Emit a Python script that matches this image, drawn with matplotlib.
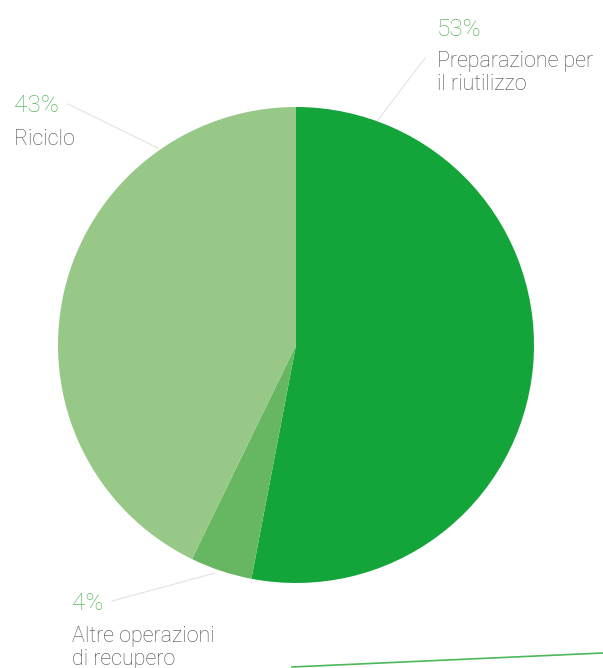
import matplotlib.pyplot as plt
from matplotlib.lines import Line2D

# slice data (clockwise from the top)
labels = ["Preparazione per\nil riutilizzo", "Altre operazioni\ndi recupero", "Riciclo"]
pcts = ["53%", "4%", "43%"]
values = [53, 4.2, 42.8]
colors = ["#14a53a", "#67b762", "#98c887"]

W, H = 603, 668
fig = plt.figure(figsize=(W / 100, H / 100), dpi=100)
ax = fig.add_axes([0, 0, 1, 1])

def Y(py):
    return H - py

ax.pie(values, colors=colors, startangle=90, counterclock=False,
       center=(296, Y(345)), radius=238, frame=True,
       wedgeprops=dict(linewidth=0))
ax.set_xlim(0, W)
ax.set_ylim(0, H)
ax.set_aspect("equal")
ax.axis("off")

# leader lines
leader_col = "#e6e6e6"
ax.plot([378, 425], [Y(120), Y(58)], color=leader_col, lw=0.9)
ax.plot([68, 158], [Y(104), Y(148)], color=leader_col, lw=0.9)
ax.plot([112, 215], [Y(601), Y(573)], color=leader_col, lw=0.9)

# label blocks: (x, baseline of percent, baseline of first text line)
pos = [(437, 36, 67), (72, 610, 642), (14, 112, 145)]
font = "Roboto"
for (x, yp, yt), p, lab in zip(pos, pcts, labels):
    ax.text(x, Y(yp), p, color="#5cb85c", fontsize=17.5, family=font,
            weight="light", va="baseline", ha="left")
    for i, line in enumerate(lab.split("\n")):
        ax.text(x, Y(yt + 23 * i), line, color="#4d4d4d", fontsize=15.5,
                family=font, weight="light", va="baseline", ha="left")

# green stroke at the bottom edge
fig.add_artist(Line2D([292 / W, 1.0], [1 - 667 / H, 1 - 653 / H],
                      color="#4cb85a", lw=1.2))

fig.savefig("out.png", dpi=100)
